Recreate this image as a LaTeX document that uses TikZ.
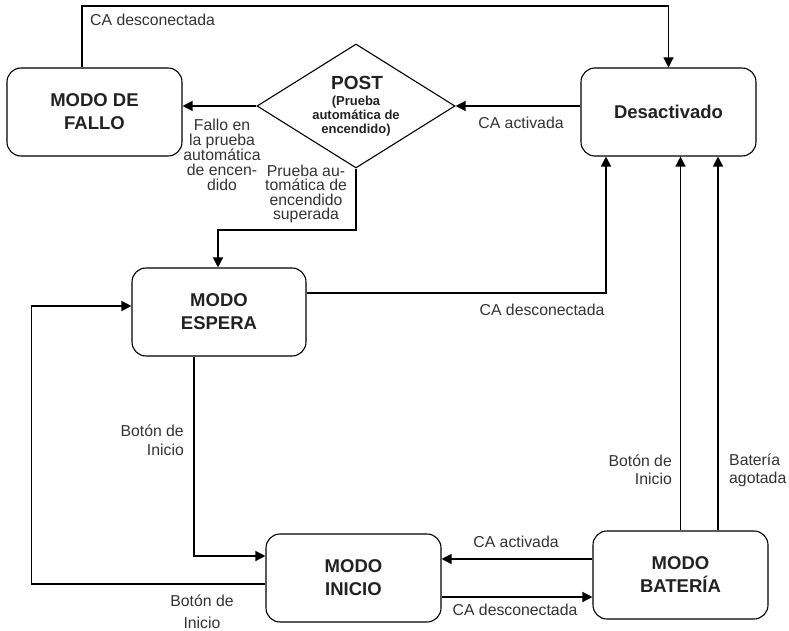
\documentclass[tikz,border=0pt]{standalone}
\usepackage{fontspec}
\setmainfont{Liberation Sans}
\usetikzlibrary{arrows.meta,shapes.geometric}
\definecolor{txt}{HTML}{333333}
\definecolor{ttl}{HTML}{222222}
\begin{document}
\begin{tikzpicture}[x=1pt,y=-1pt,
  state/.style={draw, line width=1.1pt, rounded corners=14pt, minimum width=175pt, minimum height=88pt, inner sep=0pt, align=center, font=\fontsize{18.5}{23}\selectfont\bfseries, text=ttl},
  lbl/.style={font=\fontsize{15.8}{15}\selectfont, text=txt, inner sep=0pt},
  arr/.style={line width=1.3pt, -{Triangle[length=10pt,width=10pt]}},
  ]
\useasboundingbox (0,0) rectangle (789,631);

% states
\node[state] (fallo) at (94.5,112) {MODO DE\\FALLO};
\node[state] (desact) at (668.5,112) {Desactivado};
\node[state, minimum width=174pt] (espera) at (219,312) {MODO\\ESPERA};
\node[state] (inicio) at (353.5,578) {MODO\\INICIO};
\node[state] (bateria) at (680.5,575) {MODO\\BATERÍA};
\node[draw, diamond, line width=1.1pt, minimum width=198pt, minimum height=124pt, inner sep=0pt] (post) at (356,106) {};
\node[font=\fontsize{19}{19}\selectfont\bfseries, text=ttl, inner sep=0pt] (posttitle) at (357,83) {POST};
\node[font=\fontsize{13}{14}\selectfont\bfseries, text=ttl, inner sep=0pt, align=center] (postsub) at (356,116) {(Prueba\\automática de\\encendido)};

% helper coordinates
\coordinate (ytop) at (0,6);
\coordinate (ymid) at (0,230);

% connectors
\draw[arr] ([xshift=-12.5pt]fallo.north) -- ([xshift=-12.5pt]fallo.north |- ytop) -| (desact.north);
\draw[arr] (post.west) -- (post.west -| fallo.east);
\draw[arr] (post.east -| desact.west) -- (post.east);
\draw[arr] (post.south) -- (post.south |- ymid) -| ([xshift=-1pt]espera.north);
\draw[arr] ([yshift=19pt]espera.east) -| ([xshift=-62.5pt]desact.south);
\draw[arr] ([xshift=-25pt]espera.south) |- ([yshift=22pt]inicio.west);
\draw[arr] ([yshift=-6pt]inicio.west) -- ++(-234pt,0) |- ([yshift=6pt]espera.west);
\draw[arr] ([yshift=16pt]bateria.west) -- ([yshift=16pt]bateria.west -| inicio.east);
\draw[arr] ([yshift=-19pt]inicio.east) -- ([yshift=-19pt]inicio.east -| bateria.west);
\draw[arr] (bateria.north) -- (bateria.north |- desact.south);
\draw[arr] ([xshift=37.5pt]bateria.north) -- ([xshift=37.5pt]bateria.north |- desact.south);

% labels
\node[lbl, anchor=west] (l1) at (90,20) {CA desconectada};
\node[lbl, align=center] (l2) at (222,155) {Fallo en\\la prueba\\automática\\de encen-\\dido};
\node[lbl] (l3) at (521,123) {CA activada};
\node[lbl, align=center, font=\fontsize{15.8}{14.3}\selectfont] (l4) at (306,194) {Prueba au-\\tomática de\\encendido\\superada};
\node[lbl] (l5) at (542,310) {CA desconectada};
\node[lbl, align=right, anchor=east, font=\fontsize{15.8}{19}\selectfont] (l6) at (184,440) {Botón de\\Inicio};
\node[lbl, align=center, font=\fontsize{15.8}{22}\selectfont] (l7) at (202,612) {Botón de\\Inicio};
\node[lbl] (l8) at (516,542) {CA activada};
\node[lbl] (l9) at (515,610) {CA desconectada};
\node[lbl, align=right, anchor=east, font=\fontsize{15.8}{18}\selectfont] (l10) at (672,470) {Botón de\\Inicio};
\node[lbl, align=left, anchor=west, font=\fontsize{15.8}{18}\selectfont] (l11) at (729,470) {Batería\\agotada};
\end{tikzpicture}
\end{document}
